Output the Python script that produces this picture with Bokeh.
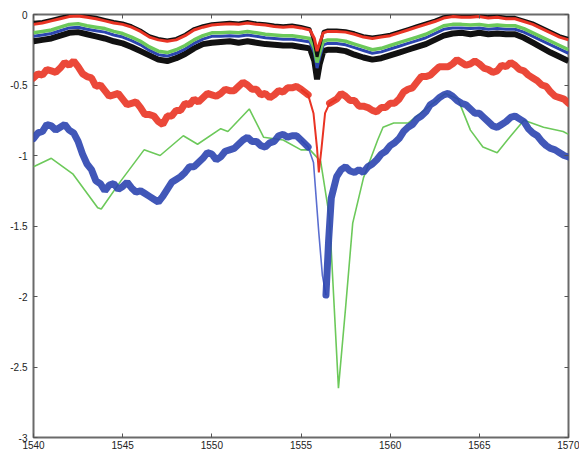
from bokeh.plotting import figure
from bokeh.models import LinearAxis, FixedTicker
from bokeh.embed import file_html
from bokeh.resources import INLINE

# ---- data ----
x_ticks = [1540, 1545, 1550, 1555, 1560, 1565, 1570]
x_tick_labels = ["1540", "1545", "1550", "1555", "1560", "1565", "1570"]
y_ticks = [-3, -2.5, -2, -1.5, -1, -0.5, 0]
y_tick_labels = ["-3", "-2.5", "-2", "-1.5", "-1", "-0.5", "0"]

x_top = [1540.0, 1540.5, 1541.0, 1541.5, 1542.0, 1542.5, 1543.0, 1543.5, 1544.0, 1544.5,
         1545.0, 1545.5, 1546.0, 1546.5, 1547.0, 1547.5, 1548.0, 1548.5, 1549.0, 1549.5,
         1550.0, 1550.5, 1551.0, 1551.5, 1552.0, 1552.5, 1553.0, 1553.5, 1554.0, 1554.5,
         1555.0, 1555.5, 1555.75, 1555.9, 1556.05, 1556.25, 1556.5,
         1557.0, 1557.5, 1558.0, 1558.5, 1559.0, 1559.5, 1560.0, 1560.5, 1561.0, 1561.5,
         1562.0, 1562.5, 1563.0, 1563.5, 1564.0, 1564.5, 1565.0, 1565.5, 1566.0, 1566.5,
         1567.0, 1567.5, 1568.0, 1568.5, 1569.0, 1569.5, 1570.0]

green_top = [-0.13, -0.12, -0.11, -0.09, -0.07, -0.065, -0.08, -0.09, -0.10, -0.12,
             -0.135, -0.16, -0.19, -0.23, -0.26, -0.27, -0.25, -0.22, -0.18, -0.15,
             -0.13, -0.13, -0.125, -0.13, -0.12, -0.13, -0.14, -0.145, -0.15, -0.15,
             -0.16, -0.17, -0.24, -0.34, -0.27, -0.19, -0.18,
             -0.18, -0.19, -0.21, -0.23, -0.25, -0.24, -0.22, -0.20, -0.18, -0.16,
             -0.14, -0.11, -0.08, -0.07, -0.07, -0.075, -0.07, -0.08, -0.075, -0.08,
             -0.08, -0.10, -0.13, -0.16, -0.19, -0.22, -0.25]

red_top = [-0.07, -0.06, -0.045, -0.03, -0.015, -0.01, -0.02, -0.03, -0.045, -0.06,
           -0.07, -0.09, -0.12, -0.16, -0.18, -0.19, -0.18, -0.15, -0.11, -0.09,
           -0.075, -0.07, -0.065, -0.07, -0.06, -0.07, -0.075, -0.085, -0.09, -0.085,
           -0.095, -0.11, -0.17, -0.26, -0.2, -0.13, -0.12,
           -0.12, -0.125, -0.14, -0.16, -0.17, -0.16, -0.15, -0.13, -0.11, -0.09,
           -0.07, -0.05, -0.025, -0.015, -0.02, -0.02, -0.015, -0.025, -0.02, -0.03,
           -0.03, -0.05, -0.07, -0.10, -0.13, -0.16, -0.18]

black_upper = [-0.055, -0.05, -0.035, -0.02, -0.005, 0.0, -0.01, -0.02, -0.035, -0.05,
               -0.06, -0.08, -0.11, -0.15, -0.17, -0.18, -0.17, -0.14, -0.1, -0.08,
               -0.065, -0.06, -0.055, -0.06, -0.05, -0.06, -0.065, -0.075, -0.08, -0.075,
               -0.085, -0.1, -0.2, -0.3, -0.22, -0.12, -0.11,
               -0.11, -0.115, -0.13, -0.15, -0.16, -0.15, -0.14, -0.12, -0.1, -0.08,
               -0.06, -0.04, -0.015, -0.005, -0.01, -0.01, -0.005, -0.015, -0.01, -0.02,
               -0.02, -0.04, -0.06, -0.09, -0.12, -0.15, -0.17]

blue_top = [-0.155, -0.145, -0.135, -0.115, -0.095, -0.09, -0.105, -0.115, -0.125, -0.145,
            -0.16, -0.185, -0.215, -0.255, -0.285, -0.295, -0.275, -0.245, -0.205, -0.175,
            -0.155, -0.155, -0.15, -0.155, -0.145, -0.155, -0.165, -0.17, -0.175, -0.175,
            -0.185, -0.195, -0.27, -0.38, -0.3, -0.215, -0.205,
            -0.205, -0.215, -0.235, -0.255, -0.275, -0.265, -0.245, -0.225, -0.205, -0.185,
            -0.165, -0.135, -0.105, -0.095, -0.095, -0.1, -0.095, -0.105, -0.1, -0.105,
            -0.105, -0.125, -0.155, -0.185, -0.215, -0.245, -0.275]

black_lower = [-0.19, -0.18, -0.17, -0.15, -0.13, -0.125, -0.14, -0.155, -0.17, -0.19,
               -0.205, -0.23, -0.26, -0.29, -0.32, -0.33, -0.31, -0.28, -0.24, -0.21,
               -0.2, -0.195, -0.19, -0.2, -0.19, -0.2, -0.21, -0.215, -0.22, -0.22,
               -0.23, -0.24, -0.33, -0.46, -0.35, -0.26, -0.25,
               -0.25, -0.26, -0.285, -0.305, -0.32, -0.31, -0.29, -0.27, -0.25, -0.23,
               -0.21, -0.18, -0.15, -0.135, -0.13, -0.14, -0.13, -0.14, -0.135, -0.14,
               -0.14, -0.165, -0.2, -0.235, -0.27, -0.3, -0.33]

# noisy middle traces: sampled every 0.25 nm, finer around the dip
x_red = ([1540 + 0.25 * i for i in range(61)]
         + [1555.4, 1555.7, 1555.9, 1556.0, 1556.15, 1556.35, 1556.6]
         + [1557 + 0.25 * i for i in range(53)])
red_mid = [-0.45, -0.42, -0.43, -0.39, -0.40, -0.41, -0.38, -0.34, -0.36, -0.33,
           -0.37, -0.42, -0.44, -0.45, -0.51, -0.50, -0.54, -0.58, -0.57, -0.56,
           -0.60, -0.64, -0.63, -0.62, -0.66, -0.71, -0.71, -0.72, -0.76, -0.78,
           -0.72, -0.72, -0.68, -0.68, -0.63, -0.64, -0.60, -0.62, -0.59, -0.56,
           -0.57, -0.58, -0.56, -0.53, -0.54, -0.54, -0.51, -0.48, -0.50, -0.53,
           -0.53, -0.57, -0.56, -0.59, -0.57, -0.54, -0.55, -0.52, -0.52, -0.51,
           -0.53,
           -0.57, -0.70, -0.95, -1.12, -0.95, -0.70, -0.63,
           -0.60, -0.56, -0.58, -0.61, -0.61, -0.65, -0.65, -0.66, -0.68, -0.69,
           -0.66, -0.66, -0.63, -0.63, -0.60, -0.55, -0.53, -0.52, -0.48, -0.44,
           -0.44, -0.43, -0.40, -0.37, -0.37, -0.37, -0.35, -0.32, -0.34, -0.36,
           -0.35, -0.33, -0.35, -0.38, -0.39, -0.41, -0.40, -0.36, -0.37, -0.34,
           -0.36, -0.39, -0.40, -0.43, -0.45, -0.47, -0.50, -0.51, -0.55, -0.58,
           -0.59, -0.60, -0.63]

x_blue = ([1540 + 0.25 * i for i in range(61)]
          + [1555.4, 1555.7, 1556.0, 1556.2, 1556.4, 1556.55, 1556.7]
          + [1557 + 0.25 * i for i in range(53)])
blue_low = [-0.88, -0.84, -0.83, -0.78, -0.79, -0.82, -0.80, -0.78, -0.82, -0.84,
            -0.90, -0.99, -1.06, -1.10, -1.18, -1.20, -1.25, -1.21, -1.20, -1.24,
            -1.22, -1.19, -1.23, -1.26, -1.25, -1.27, -1.29, -1.31, -1.33, -1.29,
            -1.24, -1.19, -1.17, -1.15, -1.12, -1.08, -1.08, -1.05, -1.02, -0.98,
            -0.99, -1.03, -1.01, -0.97, -0.96, -0.95, -0.92, -0.89, -0.87, -0.90,
            -0.90, -0.93, -0.94, -0.91, -0.90, -0.86, -0.85, -0.87, -0.86, -0.86,
            -0.89,
            -0.94, -1.05, -1.55, -1.85, -1.99, -1.60, -1.30,
            -1.15, -1.10, -1.08, -1.11, -1.12, -1.10, -1.12, -1.08, -1.06, -1.03,
            -0.99, -0.97, -0.93, -0.91, -0.88, -0.83, -0.80, -0.78, -0.74, -0.72,
            -0.69, -0.64, -0.62, -0.59, -0.57, -0.56, -0.58, -0.61, -0.63, -0.64,
            -0.67, -0.70, -0.70, -0.73, -0.76, -0.79, -0.80, -0.78, -0.76, -0.73,
            -0.72, -0.74, -0.76, -0.81, -0.84, -0.86, -0.90, -0.93, -0.95, -0.96,
            -0.98, -1.00, -1.01]

x_green = [1540.0, 1541.0, 1542.2, 1543.6, 1543.8, 1544.9, 1546.2, 1547.1, 1548.4, 1549.2,
           1550.5, 1550.9, 1552.1, 1552.9, 1554.0, 1555.0, 1555.5, 1556.1, 1556.6, 1557.1,
           1557.5, 1557.9, 1558.5, 1559.3, 1559.6, 1560.2, 1561.0, 1561.9, 1563.1, 1563.8,
           1564.5, 1565.2, 1566.0, 1566.7, 1567.5, 1568.6, 1569.7, 1570.0]
green_low = [-1.08, -1.02, -1.13, -1.37, -1.38, -1.18, -0.96, -1.00, -0.86, -0.92,
             -0.81, -0.83, -0.67, -0.87, -0.89, -0.96, -0.96, -1.04, -1.44, -2.65,
             -2.08, -1.48, -1.16, -0.89, -0.80, -0.77, -0.77, -0.68, -0.56, -0.60,
             -0.82, -0.94, -0.98, -0.87, -0.75, -0.80, -0.83, -0.85]

RED = "#e93424"
GREEN = "#6cc95a"
BLUE = "#2c45b0"
BLACK = "#111111"

p = figure(width=579, height=452, x_range=(1540, 1570), y_range=(-3, 0),
           output_backend="svg", toolbar_location=None,
           min_border_left=33, min_border_right=11, min_border_top=14, min_border_bottom=15)
p.grid.visible = False
p.outline_line_color = "#6a6a6a"
p.outline_line_width = 2
p.background_fill_color = "white"
p.border_fill_color = "white"

# low traces (thin where the curves plunge)
p.line(x_green, green_low, color=GREEN, line_width=1.6)
p.line(x_blue[60:66], blue_low[60:66], color="#5a6ed0", line_width=1.6)
p.line(x_blue[:62], blue_low[:62], color=BLUE, line_width=7, alpha=0.9, line_cap="round")
p.line(x_blue[65:], blue_low[65:], color=BLUE, line_width=7, alpha=0.9, line_cap="round")
p.line(x_red[60:69], red_mid[60:69], color=RED, line_width=2)
p.line(x_red[:62], red_mid[:62], color=RED, line_width=7, alpha=0.9, line_cap="round")
p.line(x_red[67:], red_mid[67:], color=RED, line_width=7, alpha=0.9, line_cap="round")

# top bundle
p.line(x_top, black_lower, color=BLACK, line_width=6)
p.line(x_top, blue_top, color=BLUE, line_width=3)
p.line(x_top, green_top, color=GREEN, line_width=3.5)
p.line(x_top, black_upper, color=BLACK, line_width=3)
p.line(x_top, red_top, color=RED, line_width=3)

FONT = "Liberation Sans"
for ax in [p.xaxis[0], p.yaxis[0]]:
    ax.axis_line_color = None
    ax.major_tick_in = 4
    ax.major_tick_out = 0
    ax.minor_tick_line_color = None
    ax.major_tick_line_color = "#555555"
    ax.major_tick_line_width = 1
    ax.major_label_text_font = FONT
    ax.major_label_text_font_size = "10px"
    ax.major_label_text_color = "#222222"

p.xaxis[0].ticker = FixedTicker(ticks=x_ticks)
p.xaxis[0].major_label_overrides = {t: l for t, l in zip(x_ticks, x_tick_labels)}
p.xaxis[0].major_label_standoff = 3
p.yaxis[0].ticker = FixedTicker(ticks=y_ticks)
p.yaxis[0].major_label_overrides = {t: l for t, l in zip(y_ticks, y_tick_labels)}
p.yaxis[0].major_label_standoff = 6

top_ax = LinearAxis(ticker=FixedTicker(ticks=x_ticks), axis_line_color=None,
                    major_tick_in=4, major_tick_out=0, minor_tick_line_color=None,
                    major_tick_line_color="#555555",
                    major_label_overrides={t: "" for t in x_ticks},
                    major_label_standoff=0)
right_ax = LinearAxis(ticker=FixedTicker(ticks=y_ticks), axis_line_color=None,
                      major_tick_in=4, major_tick_out=0, minor_tick_line_color=None,
                      major_tick_line_color="#555555",
                      major_label_overrides={t: "" for t in y_ticks},
                      major_label_standoff=0)
p.add_layout(top_ax, "above")
p.add_layout(right_ax, "right")

open("out.html", "w").write(file_html(p, INLINE))
